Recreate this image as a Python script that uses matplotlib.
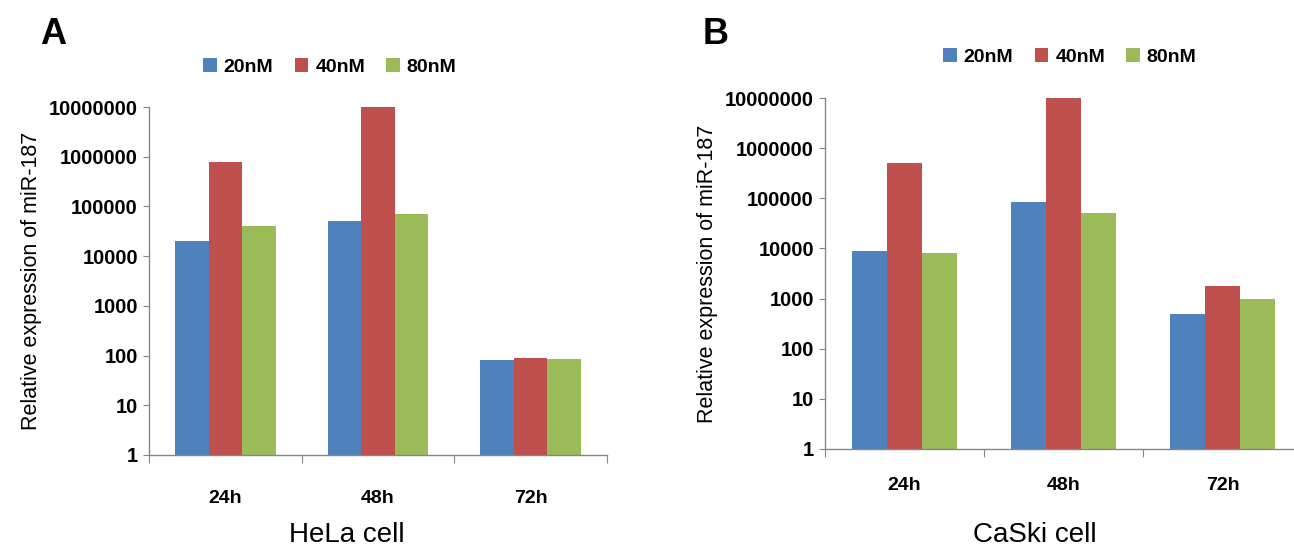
import numpy as np
import matplotlib.pyplot as plt
from matplotlib.ticker import FixedLocator, NullLocator, FixedFormatter

plt.rcParams['font.family'] = ['Liberation Sans', 'DejaVu Sans']

times = ['24h', '48h', '72h']
doses = ['20nM', '40nM', '80nM']
colors = ['#4F81BD', '#C0504D', '#9BBB59']

hela_20 = [20000, 50000, 80]
hela_40 = [800000, 10000000, 90]
hela_80 = [40000, 70000, 85]

caski_20 = [9000, 85000, 500]
caski_40 = [500000, 10000000, 1800]
caski_80 = [8000, 50000, 1000]

yticks = [1, 10, 100, 1000, 10000, 100000, 1000000, 10000000]
ytick_labels = ['1', '10', '100', '1000', '10000', '100000', '1000000', '10000000']

fig = plt.figure(figsize=(12.94, 5.48), dpi=100)
axis_grey = '#868686'


def draw_panel(rect, series, cell, letter, letter_xy, cell_xy, leg_xy, xpad):
    ax = fig.add_axes(rect)
    ax.set_yscale('log')
    x = np.arange(len(times))
    w = 0.22
    for i, (vals, lab) in enumerate(zip(series, doses)):
        ax.bar(x + (i - 1) * w, vals, w, color=colors[i], label=lab, zorder=2)
    ax.set_ylim(1, 1e7)
    ax.set_xlim(-0.5, 2.5)
    ax.yaxis.set_major_locator(FixedLocator(yticks))
    ax.yaxis.set_major_formatter(FixedFormatter(ytick_labels))
    ax.yaxis.set_minor_locator(NullLocator())
    ax.set_xticks([-0.5, 0.5, 1.5, 2.5])
    ax.set_xticklabels([])
    ax.set_xticks(x, minor=True)
    ax.set_xticklabels(times, minor=True, fontsize=14, fontweight='bold')
    ax.tick_params(axis='x', which='major', length=6, color=axis_grey, direction='out')
    ax.tick_params(axis='x', which='minor', length=0, pad=xpad)
    ax.tick_params(axis='y', length=4, color=axis_grey, pad=4, labelsize=14.5)
    for t in ax.get_yticklabels():
        t.set_fontweight('bold')
    for s in ['top', 'right']:
        ax.spines[s].set_visible(False)
    for s in ['left', 'bottom']:
        ax.spines[s].set_color(axis_grey)
        ax.spines[s].set_linewidth(1.0)
    ax.set_ylabel('Relative expression of miR-187', fontsize=15.5, labelpad=5)
    fig.text(letter_xy[0], letter_xy[1], letter, fontsize=26, fontweight='bold',
             ha='left', va='center')
    fig.text(cell_xy[0], cell_xy[1], cell, fontsize=20, ha='center', va='center')
    fig.legend(*ax.get_legend_handles_labels(), loc='center', bbox_to_anchor=leg_xy,
               ncol=3, frameon=False, handlelength=0.7, handleheight=0.7,
               handletextpad=0.35, columnspacing=1.1,
               prop={'size': 14, 'weight': 'bold'})
    return ax


draw_panel([149 / 1294, 1 - 455 / 548, 458 / 1294, 348 / 548],
           [hela_20, hela_40, hela_80], 'HeLa cell', 'A',
           (40 / 1294, 1 - 35 / 548), (347 / 1294, 1 - 535 / 548),
           (330 / 1294, 1 - 67 / 548), 25)

draw_panel([825 / 1294, 1 - 449 / 548, 477 / 1294, 351 / 548],
           [caski_20, caski_40, caski_80], 'CaSki cell', 'B',
           (703 / 1294, 1 - 35 / 548), (1035 / 1294, 1 - 535 / 548),
           (1070 / 1294, 1 - 57 / 548), 20)

fig.savefig('out.png', dpi=100)
